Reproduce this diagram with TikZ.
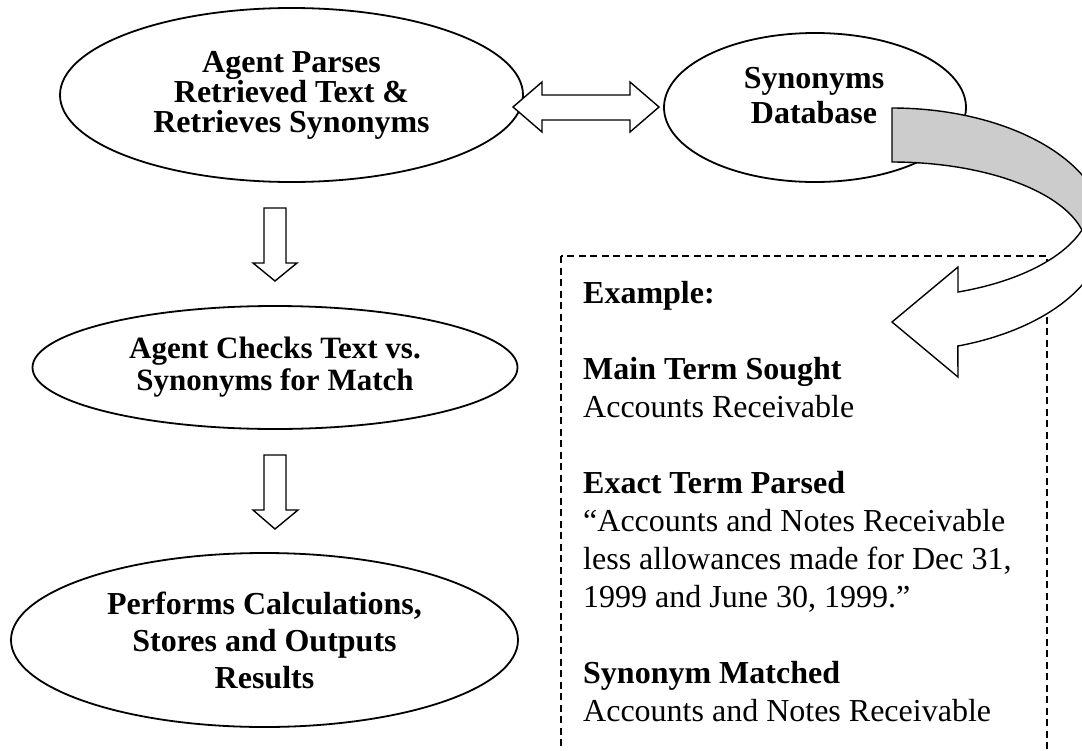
\documentclass[tikz,border=0pt]{standalone}
\usepackage{fontspec}
\setmainfont{Liberation Serif}
\usetikzlibrary{shapes.geometric}
\definecolor{ribbongray}{RGB}{204,204,204}
\begin{document}
\begin{tikzpicture}[x=1pt,y=-1pt,
  proc/.style={ellipse, draw, line width=1.8pt, fill=white, inner sep=0pt, align=center},
  blockarrow/.style={draw, fill=white, line width=1.4pt, line join=miter},
  ribbonback/.style={draw, fill=ribbongray, line width=1.4pt, line join=miter},
  ribbonfront/.style={draw, fill=white, line width=1.4pt, line join=miter},
  examplebox/.style={draw, line width=1.4pt, dash pattern=on 7pt off 4.5pt},
]
\useasboundingbox (0,0) rectangle (1082,750);
\clip (0,0) rectangle (1082,750);

% dashed example box (partly hidden under the ribbon arrow)
\draw[examplebox] (561,256) rectangle (1047,800);
\node[anchor=north west, inner sep=0pt, align=left, font=\fontsize{32}{38}\selectfont] (example) at (583,281.5)
  {\textbf{Example:}\\[38pt]
   \textbf{Main Term Sought}\\
   Accounts Receivable\\[38pt]
   \textbf{Exact Term Parsed}\\
   “Accounts and Notes Receivable\\
   less allowances made for Dec 31,\\
   1999 and June 30, 1999.”\\[38pt]
   \textbf{Synonym Matched}\\
   Accounts and Notes Receivable};

% process ellipses
\node[proc, minimum width=463pt, minimum height=174pt, font=\fontsize{32}{30}\selectfont\bfseries] (parse) at (291.5,95)
  {Agent Parses\\Retrieved Text \&\\Retrieves Synonyms};
\node[proc, minimum width=302pt, minimum height=149pt] (syn) at (815,107.5) {};
\node[inner sep=0pt, align=center, font=\fontsize{32}{35}\selectfont\bfseries] (syntext) at (814,96) {Synonyms\\Database};
\node[proc, minimum width=485pt, minimum height=123pt, font=\fontsize{31}{32}\selectfont\bfseries] (check) at (275,367.5)
  {Agent Checks Text vs.\\Synonyms for Match};
\node[proc, minimum width=507pt, minimum height=174pt, font=\fontsize{32}{37}\selectfont\bfseries] (calc) at (264.5,640)
  {Performs Calculations,\\Stores and Outputs\\Results};

% double block arrow between parse and synonyms database
\coordinate (dl) at (513,107);
\coordinate (dr) at (659,107);
\draw[blockarrow] (dl) -- ++(29,-25) -- ++(0,13) -- ++(88,0) -- ++(0,-13) -- (dr)
  -- ++(-29,25) -- ++(0,-12) -- ++(-88,0) -- ++(0,12) -- cycle;

% down block arrows
\coordinate (d1) at (275,208);
\draw[blockarrow] (d1) ++(-11,0) -- ++(22,0) -- ++(0,55) -- ++(11,0) -- ++(-22,18) -- ++(-22,-18) -- ++(11,0) -- cycle;
\coordinate (d2) at (275,455);
\draw[blockarrow] (d2) ++(-11,0) -- ++(22,0) -- ++(0,55) -- ++(12,0) -- ++(-23,19) -- ++(-22,-19) -- ++(11,0) -- cycle;

% curved ribbon arrow: back (grey) part
\draw[ribbonback] (892,162) -- (892,108)
  -- plot[domain=90:0, samples=60] ({892+213*cos(\x)},{230-122*sin(\x)})
  -- (1082,230)
  -- plot[domain=13:90, samples=60] ({892+195*cos(\x)},{250-88*sin(\x)})
  -- cycle;
% front (white) part with head
\draw[ribbonfront] (1105,230)
  -- plot[domain=0:-72, samples=60] ({892+213*cos(\x)},{230-122*sin(\x)})
  -- (958,377) -- (892,322) -- (958,267) -- (958,292)
  -- plot[domain=-70.7:-17.9, samples=60] ({892+199.7*cos(\x)},{200-97.5*sin(\x)})
  -- cycle;
\end{tikzpicture}
\end{document}
